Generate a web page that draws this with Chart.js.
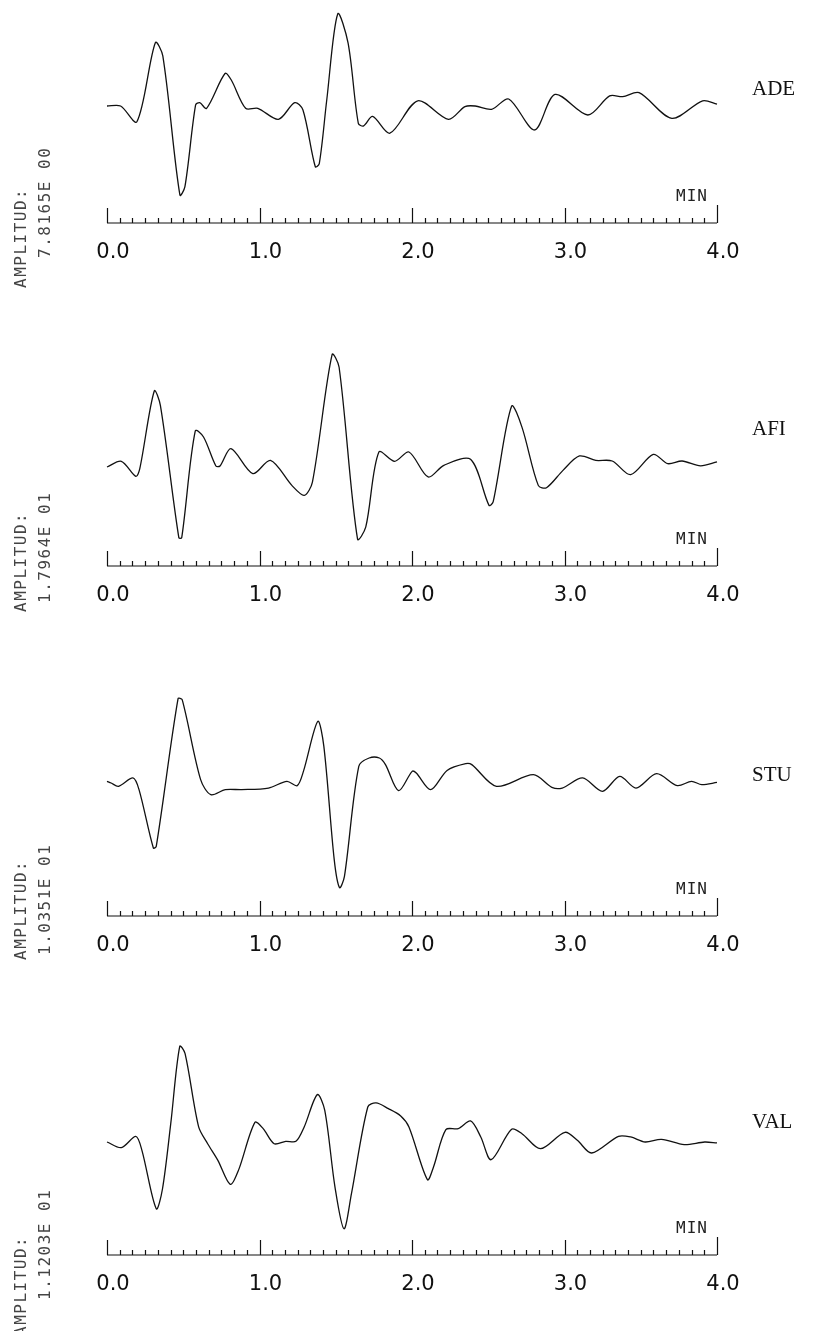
<!DOCTYPE html>
<html>
<head>
<meta charset="utf-8">
<script src="https://cdn.jsdelivr.net/npm/chart.js@4"></script>
<style>
  body { margin: 0; background: #fff; width: 816px; height: 1331px; position: relative; overflow: hidden; }
  canvas { position: absolute; left: 0; }
  .station { position: absolute; left: 752px; font-family: "Liberation Serif", serif; font-size: 21px; color: #111; line-height: 21px; }
  .unit { position: absolute; font-family: "DejaVu Sans Mono", monospace; font-size: 16px; color: #222; letter-spacing: 1px; line-height: 16px; }
  .amp { position: absolute; font-family: "DejaVu Sans Mono", monospace; font-size: 16px; color: #444; letter-spacing: 1.5px; line-height: 16px; white-space: nowrap; transform-origin: 0 0; transform: rotate(-90deg); }
</style>
</head>
<body>
<script>
// time in minutes, amplitude in arbitrary units
const adeTime = [0,0.089,0.196,0.317,0.366,0.478,0.511,0.581,0.608,0.653,0.774,0.815,0.909,0.989,1.124,1.231,1.285,1.366,1.392,1.441,1.513,1.581,1.648,1.683,1.742,1.855,2.038,2.239,2.347,2.414,2.522,2.634,2.804,2.938,3.153,3.296,3.382,3.489,3.704,3.906,4.0];
const adeAmp = [0,0,-15,60.5,47.8,-85,-77,1,3.2,-2.2,31,24.8,-2.2,-2.2,-12.7,3.2,-3.8,-58,-55,5.7,87.9,60,-16.6,-19,-10,-26,5,-12.7,-0.6,0,-3.2,6.7,-22.9,11,-8.6,9.6,8.9,12.7,-11.8,5,1.9];

const afiTime = [0,0.094,0.189,0.215,0.310,0.350,0.471,0.490,0.579,0.633,0.714,0.741,0.813,0.956,1.072,1.212,1.293,1.347,1.476,1.522,1.643,1.697,1.783,1.886,1.980,2.106,2.209,2.384,2.505,2.532,2.653,2.721,2.828,2.882,2.990,3.098,3.205,3.313,3.434,3.582,3.677,3.771,3.892,4.0];
const afiAmp = [0,5.4,-8.9,-1.6,72.4,58.7,-67.3,-67.3,34.3,28.6,1,1,17.5,-6.3,6.3,-17.5,-27,-14.3,107,95,-68.6,-57.1,14.3,5.4,14.3,-9.5,1.6,7.3,-36.5,-33.3,57.8,38,-17.5,-19.7,-3.2,10.5,6.3,5.7,-7.3,12,3.2,5.7,1,4.8];

const stuTime = [0,0.027,0.075,0.170,0.210,0.304,0.323,0.466,0.493,0.614,0.681,0.776,0.883,1.059,1.180,1.247,1.288,1.382,1.422,1.490,1.525,1.557,1.651,1.719,1.786,1.826,1.912,2.001,2.028,2.123,2.230,2.352,2.392,2.554,2.796,2.917,2.985,3.119,3.249,3.362,3.469,3.604,3.739,3.833,3.900,4.0];
const stuAmp = [1.6,0,-3.2,4.8,-6.3,-61.9,-60.3,80.3,79.4,3.2,-11.1,-6.3,-6.3,-4.8,1.6,-2.5,11.1,58.7,34.9,-73,-99.7,-88.9,15.9,23.8,23.8,17.5,-7.3,11.1,9.5,-6.3,12,18.4,17.5,-3.2,7.9,-4.1,-4.8,4.8,-7.9,6.3,-4.8,8.9,-2.5,1.6,-1.6,0.6];

const valTime = [0,0.094,0.189,0.229,0.323,0.364,0.418,0.477,0.512,0.601,0.660,0.727,0.808,0.862,0.970,1.024,1.096,1.172,1.239,1.293,1.379,1.428,1.495,1.554,1.603,1.710,1.764,1.845,1.926,1.980,2.101,2.141,2.222,2.303,2.384,2.451,2.519,2.653,2.721,2.842,3.003,3.084,3.178,3.354,3.434,3.529,3.636,3.785,3.919,4.0];
const valAmp = [0,-5.3,5.3,-7.8,-62.5,-43.8,17.2,89.7,82.8,14.1,-1.6,-17.2,-39.7,-26.6,18.4,12.5,-1.6,0.6,0.6,14.1,44.4,29.7,-42.2,-81.3,-48.4,32.8,36.6,31.3,24.4,14.1,-35.3,-23.4,11.6,12.5,19.7,4.7,-16.6,11.9,7.8,-6.3,9.1,1.6,-10.3,5.3,4.7,0,2.5,-2.5,0,-0.9];

const stations = ['ADE', 'AFI', 'STU', 'VAL'];
const ampLabels = ['7.8165E 00', '1.7964E 01', '1.0351E 01', '1.1203E 01'];
const xTicks = [0, 1, 2, 3, 4];   // minutes
const minorPerMinute = 12;        // 5 s ruler ticks

// page layout of each panel (pixels)
const panels = [
  { time: adeTime, amp: adeAmp, top: 5,   base: 106,  ruler: 223,  k: 1.047, label: 88,   ampBottom: 288,  valBottom: 258 },
  { time: afiTime, amp: afiAmp, top: 300, base: 467,  ruler: 566,  k: 1.05,  label: 428,  ampBottom: 612,  valBottom: 603 },
  { time: stuTime, amp: stuAmp, top: 650, base: 783,  ruler: 916,  k: 1.05,  label: 774,  ampBottom: 960,  valBottom: 955 },
  { time: valTime, amp: valAmp, top: 990, base: 1142, ruler: 1255, k: 1.067, label: 1121, ampBottom: 1336, valBottom: 1300 }
];

// ruler with 5 s ticks pointing up from the time axis
const rulerPlugin = {
  id: 'ruler',
  afterDraw(chart) {
    const ctx = chart.ctx;
    const xs = chart.scales.x;
    const y = chart.chartArea.bottom;
    const n = (xTicks[xTicks.length - 1] - xTicks[0]) * minorPerMinute;
    ctx.save();
    ctx.strokeStyle = '#111';
    ctx.lineWidth = 1.2;
    ctx.beginPath();
    ctx.moveTo(xs.getPixelForValue(xTicks[0]), y);
    ctx.lineTo(xs.getPixelForValue(xTicks[xTicks.length - 1]), y);
    for (let i = 0; i <= n; i++) {
      const px = Math.round(xs.getPixelForValue(xTicks[0] + i / minorPerMinute)) + 0.5;
      let h = 5;
      if (i % minorPerMinute === 0) h = 15;
      if (i === n) h = 18;
      ctx.moveTo(px, y);
      ctx.lineTo(px, y - h);
    }
    ctx.stroke();
    ctx.restore();
  }
};

panels.forEach((p, idx) => {
  const canvas = document.createElement('canvas');
  const h = p.ruler - p.top + 50;
  canvas.width = 816;
  canvas.height = h;
  canvas.style.top = p.top + 'px';
  document.body.appendChild(canvas);

  new Chart(canvas.getContext('2d'), {
    type: 'line',
    data: {
      datasets: [{
        data: p.time.map((t, i) => ({ x: t, y: p.amp[i] })),
        borderColor: '#111',
        borderWidth: 1.3,
        pointRadius: 0,
        fill: false,
        tension: 0.3,
        clip: false
      }]
    },
    options: {
      responsive: false,
      animation: false,
      events: [],
      layout: { padding: { left: 107, right: 99, top: 0, bottom: 0 } },
      plugins: { legend: { display: false }, tooltip: { enabled: false } },
      scales: {
        x: {
          type: 'linear',
          min: xTicks[0],
          max: xTicks[xTicks.length - 1],
          afterBuildTicks: s => { s.ticks = xTicks.map(v => ({ value: v })); },
          afterFit: s => { s.height = 50; },
          grid: { display: false, drawTicks: false, tickLength: 0 },
          border: { display: false },
          ticks: {
            padding: 17,
            labelOffset: 6,
            maxRotation: 0,
            color: '#111',
            font: { family: 'DejaVu Sans', size: 21, weight: 'normal' },
            callback: v => v.toFixed(1)
          }
        },
        y: {
          display: false,
          min: -(p.ruler - p.base) / p.k,
          max: (p.base - p.top) / p.k
        }
      }
    },
    plugins: [rulerPlugin]
  });

  const st = document.createElement('div');
  st.className = 'station';
  st.textContent = stations[idx];
  st.style.top = (p.label - 10) + 'px';
  document.body.appendChild(st);

  const unit = document.createElement('div');
  unit.className = 'unit';
  unit.textContent = 'MIN';
  unit.style.left = '676px';
  unit.style.top = (p.ruler - 35) + 'px';
  document.body.appendChild(unit);

  const a1 = document.createElement('div');
  a1.className = 'amp';
  a1.textContent = 'AMPLITUD:';
  a1.style.left = '13px';
  a1.style.top = p.ampBottom + 'px';
  document.body.appendChild(a1);

  const a2 = document.createElement('div');
  a2.className = 'amp';
  a2.textContent = ampLabels[idx];
  a2.style.left = '37px';
  a2.style.top = p.valBottom + 'px';
  document.body.appendChild(a2);
});
</script>
</body>
</html>
